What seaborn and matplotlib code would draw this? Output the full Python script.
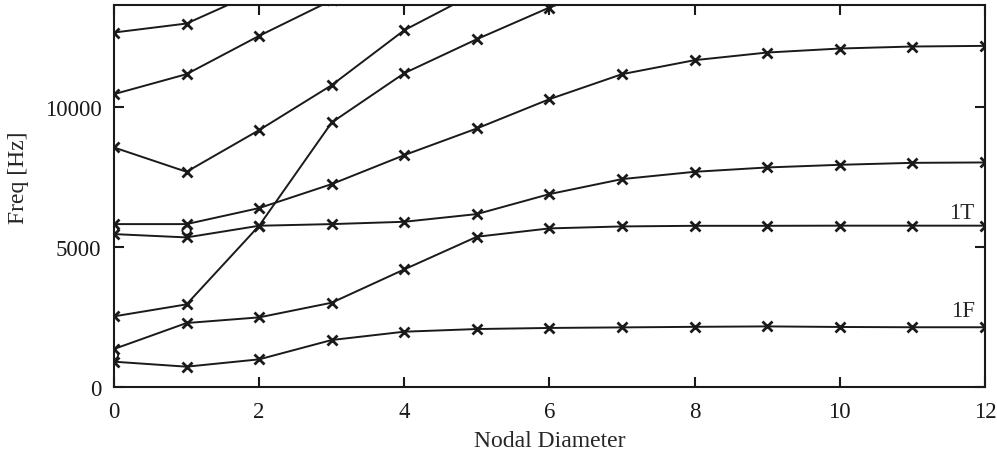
import matplotlib
matplotlib.use('Agg')
import matplotlib.pyplot as plt
import seaborn as sns
import pandas as pd

# ── DATA ─────────────────────────────────────────────────────────────
nodal_diam = list(range(13))

mode_1F  = [904, 726, 988, 1679, 1976, 2071, 2110, 2130, 2150, 2165, 2145, 2135, 2135]
mode_1T  = [1357, 2286, 2488, 3012, 4202, 5369, 5667, 5738, 5760, 5760, 5765, 5765, 5765]
mode_3   = [2524, 2952, 5762, 9452, 11214, 12429, 13560, 14500]
mode_4   = [5464, 5345, 5762, 5821, 5904, 6179, 6893, 7429, 7690, 7845, 7940, 8010, 8024]
mode_5   = [5821, 5821, 6393, 7250, 8286, 9239, 10286, 11179, 11679, 11952, 12095, 12167, 12190]
mode_6   = [8560, 7690, 9179, 10786, 12750, 14100]
mode_7   = [10464, 11179, 12548, 13820]
mode_8   = [12667, 12988, 14150]

# open circles at ND 0/1
circ_x = [0, 1, 0]
circ_y = [5640, 5590, 1143]

modes = {"1F": mode_1F, "1T": mode_1T, "m3": mode_3, "m4": mode_4,
         "m5": mode_5, "m6": mode_6, "m7": mode_7, "m8": mode_8}

rows = []
for name, vals in modes.items():
    for nd, f in zip(nodal_diam, vals):
        rows.append({"mode": name, "nd": nd, "freq": f})
df = pd.DataFrame(rows)

# ── PLOT ─────────────────────────────────────────────────────────────
sns.set_theme(style="ticks")
plt.rcParams['font.family'] = ['Liberation Serif', 'DejaVu Serif']

fig = plt.figure(figsize=(9.97, 4.52), dpi=100)
ax = fig.add_axes([0.1143, 0.1416, 0.8736, 0.8451])

sns.lineplot(data=df, x="nd", y="freq", hue="mode", units="mode",
             estimator=None, sort=False, legend=False,
             palette=["#1a1a1a"] * len(modes),
             marker="x", markersize=7.5, markeredgewidth=2.0,
             markeredgecolor="#1a1a1a", linewidth=1.4, ax=ax)
sns.scatterplot(x=circ_x, y=circ_y, marker="o", s=36, facecolor="none",
                edgecolor="#1a1a1a", linewidth=1.3, ax=ax, zorder=3)

ax.set_xlim(0, 12)
ax.set_ylim(0, 13650)
ax.set_xticks(range(0, 13, 2))
ax.set_yticks([0, 5000, 10000])
ax.tick_params(direction='in', top=True, right=True, length=7, width=1.5,
               labelsize=16.5, colors="#1a1a1a")
ax.tick_params(axis='x', pad=10)
ax.tick_params(axis='y', pad=9)
for sp in ax.spines.values():
    sp.set_linewidth(1.5)
    sp.set_color("#1a1a1a")

ax.set_xlabel("Nodal Diameter", fontsize=17, labelpad=6)
ax.set_ylabel("Freq [Hz]", fontsize=17)
ax.yaxis.set_label_coords(-0.097, 0.55)

ax.text(11.86, 6250, "1T", ha='right', va='center', fontsize=16.5)
ax.text(11.86, 2730, "1F", ha='right', va='center', fontsize=16.5)

plt.savefig("out.png", dpi=100)
